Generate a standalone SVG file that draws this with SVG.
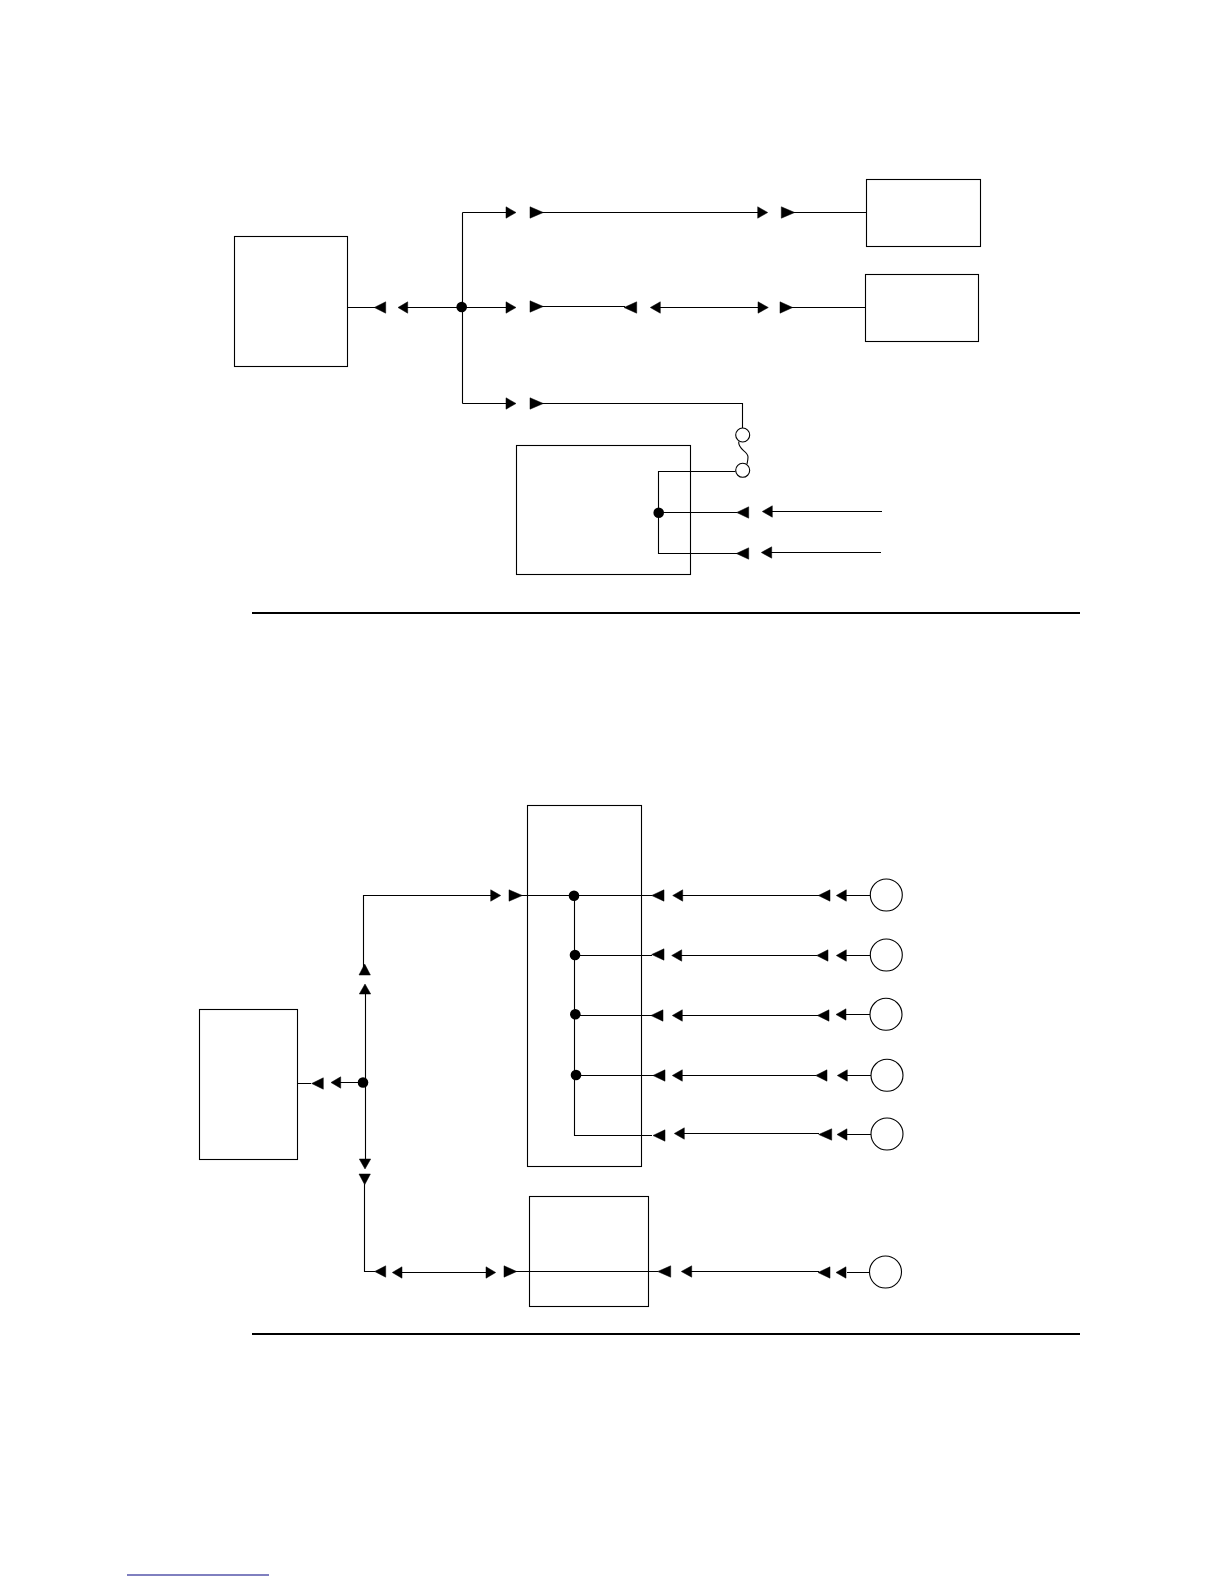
<svg xmlns="http://www.w3.org/2000/svg" width="1224" height="1584" viewBox="0 0 1224 1584">
<style>
.n{fill:none;stroke:#000;stroke-width:1.1}
.c{fill:#fff;stroke:#000;stroke-width:1.1}
.l{fill:none;stroke:#000;stroke-width:1.1}
.h{fill:#000;stroke:#000;stroke-width:.5}
.d{fill:#000;stroke:none}
.r{stroke:#000;stroke-width:2}
</style>
<rect width="1224" height="1584" fill="#fff"/>
<g id="connectors">
<path class="l" d="M347.500 307.500H375M407 307.500H462M462.500 212.500V403.500M462.500 307.500H507M462.500 212.500H507M462.500 403.500H507"/>
<path class="l" d="M541 212.500H758M792 212.500H866M541 306.500H625M660 307.500H758M791 307.500H865M541 403.500H742.500V428"/>
<path class="l" d="M738.700 441.500C738 450 748 451 748 457C748 460 747.500 462 747 464"/>
<path class="l" d="M735.500 471.500H658.500V553.500H737M658.500 512.500H737M772 511.500H882M771 552.500H881"/>
<path class="l" d="M311 1083.500H297.500M340 1082.500H365M365.500 994V1159M363.500 975V895.500H491M520 895.500H574"/>
<path class="l" d="M364.500 1184V1271.500H375M402 1272.500H486M514 1271.500H658M691 1271.500H819M847 1272.500H869"/>
<path class="l" d="M574.500 895.500V1135.500H652M574.500 895.500H652M575 955.500H652M576 1015.500H652M576 1075.500H654"/>
<path class="l" d="M682 895.500H819M846 895.500H870M681 955.500H817M846 955.500H870M682 1015.500H818M846 1014.500H870M682 1075.500H816M847 1075.500H871M684 1133.500H819M847 1134.500H871"/>
<g id="arrowheads">
<polygon class="h" points="374.300,307.500 385.700,301.800 385.700,313.200"/>
<polygon class="h" points="398,307.500 407.700,301.800 407.700,313.200"/>
<polygon class="h" points="516,212.500 506,206.800 506,218.200"/>
<polygon class="h" points="543.300,212.500 530,206.800 530,218.200"/>
<polygon class="h" points="516,307.500 506,301.800 506,313.200"/>
<polygon class="h" points="543.300,306.500 530,300.800 530,312.200"/>
<polygon class="h" points="516,403.500 506,397.800 506,409.200"/>
<polygon class="h" points="543.300,403.500 530,397.800 530,409.200"/>
<polygon class="h" points="767.700,212.500 757.700,206.800 757.700,218.200"/>
<polygon class="h" points="794.700,212.500 781.300,206.800 781.300,218.200"/>
<polygon class="h" points="624,307.500 636.700,301.800 636.700,313.200"/>
<polygon class="h" points="650.300,307.500 660.300,301.800 660.300,313.200"/>
<polygon class="h" points="768.300,307.500 758,301.800 758,313.200"/>
<polygon class="h" points="792.700,307.500 780,301.800 780,313.200"/>
<polygon class="h" points="736.700,512.500 748.700,506.800 748.700,518.200"/>
<polygon class="h" points="762.300,511.500 772.300,505.800 772.300,517.200"/>
<polygon class="h" points="736.300,553.500 748.700,547.800 748.700,559.200"/>
<polygon class="h" points="761.300,552.500 771.700,546.800 771.700,558.200"/>
<polygon class="h" points="311.700,1083.500 323.300,1077.800 323.300,1089.200"/>
<polygon class="h" points="331,1082.500 340.700,1076.800 340.700,1088.200"/>
<polygon class="h" points="365,984 359.300,994 370.700,994"/>
<polygon class="h" points="364.700,964 359,975 370.400,975"/>
<polygon class="h" points="365,1169 359.300,1159 370.700,1159"/>
<polygon class="h" points="364.700,1184.700 359,1174 370.400,1174"/>
<polygon class="h" points="500.700,895.500 490.700,889.800 490.700,901.200"/>
<polygon class="h" points="522.300,895.500 509,889.800 509,901.200"/>
<polygon class="h" points="651.700,895.500 664,889.800 664,901.200"/>
<polygon class="h" points="672.700,895.500 682.700,889.800 682.700,901.200"/>
<polygon class="h" points="818.300,895.500 830,889.800 830,901.200"/>
<polygon class="h" points="836.300,895.500 846.300,889.800 846.300,901.200"/>
<polygon class="h" points="651.700,954.500 664,948.800 664,960.200"/>
<polygon class="h" points="671.700,955.500 681.700,949.800 681.700,961.200"/>
<polygon class="h" points="816.700,955.500 828,949.800 828,961.200"/>
<polygon class="h" points="836.300,955.500 846.300,949.800 846.300,961.200"/>
<polygon class="h" points="651,1015.500 663,1009.800 663,1021.200"/>
<polygon class="h" points="672.300,1015.500 682.300,1009.800 682.300,1021.200"/>
<polygon class="h" points="817.300,1015.500 829,1009.800 829,1021.200"/>
<polygon class="h" points="836,1014.500 846,1008.800 846,1020.200"/>
<polygon class="h" points="653,1075.500 665,1069.800 665,1081.200"/>
<polygon class="h" points="672.300,1075.500 682.300,1069.800 682.300,1081.200"/>
<polygon class="h" points="815.700,1075.500 827,1069.800 827,1081.200"/>
<polygon class="h" points="837.300,1075.500 847.300,1069.800 847.300,1081.200"/>
<polygon class="h" points="653,1135.500 665,1129.800 665,1141.200"/>
<polygon class="h" points="674.300,1133.500 684.300,1127.800 684.300,1139.200"/>
<polygon class="h" points="818.700,1134.500 831.700,1128.800 831.700,1140.200"/>
<polygon class="h" points="837,1134.500 847,1128.800 847,1140.200"/>
<polygon class="h" points="374.700,1271.500 385.700,1265.800 385.700,1277.200"/>
<polygon class="h" points="392.300,1272.500 402,1266.800 402,1278.200"/>
<polygon class="h" points="495.700,1272.500 486,1266.800 486,1278.200"/>
<polygon class="h" points="516.700,1271.500 504,1265.800 504,1277.200"/>
<polygon class="h" points="657.700,1271.500 670.700,1265.800 670.700,1277.200"/>
<polygon class="h" points="681.300,1271.500 691.700,1265.800 691.700,1277.200"/>
<polygon class="h" points="818,1272.500 830,1266.800 830,1278.200"/>
<polygon class="h" points="836,1272.500 846,1266.800 846,1278.200"/>
</g>
<g id="junctions">
<circle class="d" cx="461.700" cy="307" r="5.300"/>
<circle class="d" cx="658.700" cy="512.700" r="5.300"/>
<circle class="d" cx="363" cy="1082.500" r="5.300"/>
<circle class="d" cx="574" cy="895.700" r="5.300"/>
<circle class="d" cx="575" cy="955" r="5.300"/>
<circle class="d" cx="575.300" cy="1014.300" r="5.300"/>
<circle class="d" cx="576" cy="1075" r="5.300"/>
</g>
</g>
<g id="box-a"><rect class="n" x="234.500" y="236.500" width="113" height="130"/></g>
<g id="box-b"><rect class="n" x="866.500" y="179.500" width="114" height="67"/></g>
<g id="box-c"><rect class="n" x="865.500" y="274.500" width="113" height="67"/></g>
<g id="box-d"><rect class="n" x="516.500" y="445.500" width="174" height="129"/></g>
<g id="box-e"><rect class="n" x="199.500" y="1009.500" width="98" height="150"/></g>
<g id="box-f"><rect class="n" x="527.500" y="805.500" width="114" height="361"/></g>
<g id="box-g"><rect class="n" x="529.500" y="1196.500" width="119" height="110"/></g>
<g id="term-1"><circle class="c" cx="742.700" cy="435" r="7"/></g>
<g id="term-2"><circle class="c" cx="742.700" cy="470.300" r="7"/></g>
<g id="src-1"><circle class="c" cx="886.300" cy="895" r="16"/></g>
<g id="src-2"><circle class="c" cx="886.300" cy="955" r="16"/></g>
<g id="src-3"><circle class="c" cx="886" cy="1014.300" r="16"/></g>
<g id="src-4"><circle class="c" cx="887" cy="1075.300" r="16"/></g>
<g id="src-5"><circle class="c" cx="887" cy="1134" r="16"/></g>
<g id="src-6"><circle class="c" cx="885.500" cy="1272" r="16"/></g>
<line class="r" x1="252" y1="613" x2="1080" y2="613"/>
<line class="r" x1="252" y1="1334" x2="1080" y2="1334"/>
<line x1="127" y1="1575" x2="269" y2="1575" stroke="#000080" stroke-width="1"/>
</svg>
